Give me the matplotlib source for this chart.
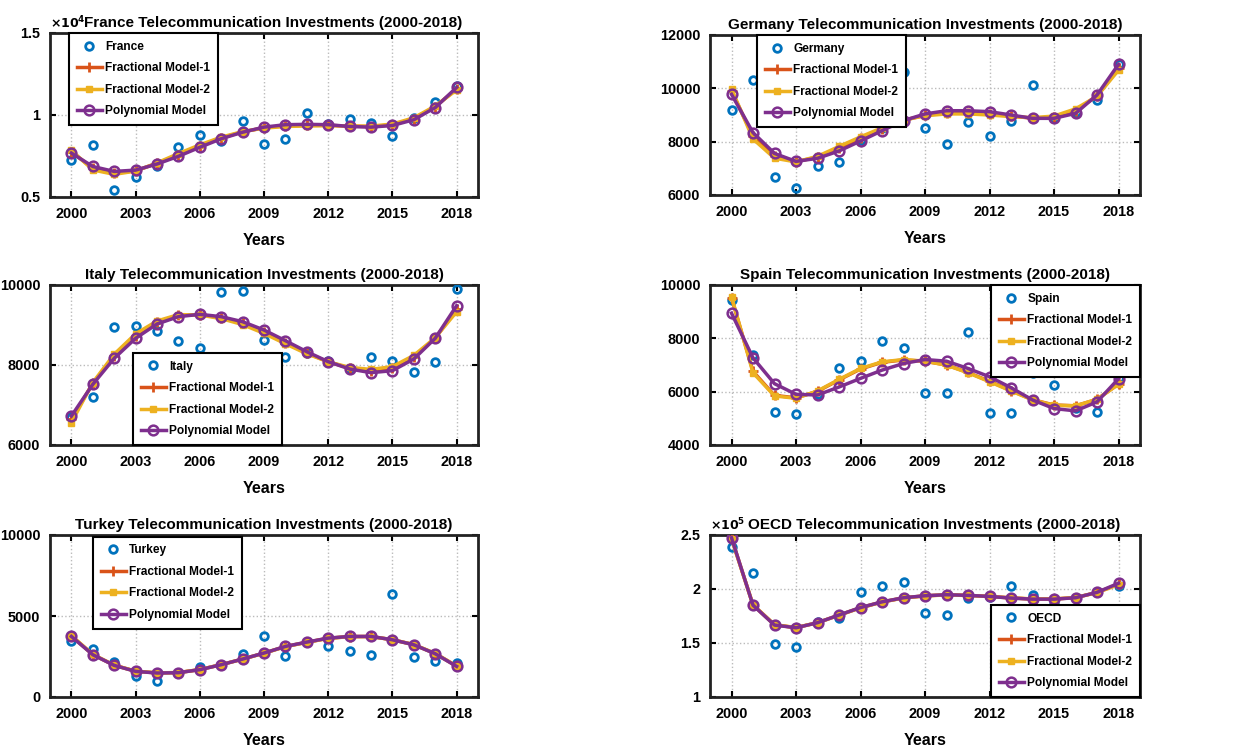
import numpy as np
import matplotlib
matplotlib.use("Agg")
import matplotlib.pyplot as plt
from matplotlib.ticker import FuncFormatter

plt.rcParams['font.family'] = ['Liberation Sans', 'DejaVu Sans']
plt.rcParams['font.weight'] = 'bold'

years = list(range(2000, 2019))
xticks = [2000, 2003, 2006, 2009, 2012, 2015, 2018]

# France
france_data = [7250, 8200, 5410, 6190, 6910, 8030, 8790, 8400, 9630, 8240, 8550, 10140, 9450, 9730, 9530, 8690, 9800, 10800, 11760]
france_fm1 = [7750, 6750, 6450, 6600, 7050, 7580, 8110, 8600, 8970, 9220, 9340, 9370, 9370, 9320, 9290, 9400, 9780, 10500, 11600]
france_fm2 = [7850, 6650, 6380, 6580, 7080, 7650, 8180, 8650, 8990, 9200, 9300, 9330, 9350, 9330, 9320, 9450, 9830, 10550, 11520]
france_poly = [7680, 6860, 6560, 6640, 7010, 7480, 8030, 8550, 8950, 9260, 9410, 9430, 9410, 9300, 9260, 9360, 9710, 10450, 11680]

# Germany
germany_data = [9190, 10310, 6690, 6250, 7100, 7250, 8050, 8500, 10625, 8500, 7900, 8750, 8225, 8775, 10125, 8900, 9100, 9560, 10900]
germany_fm1 = [9900, 8200, 7450, 7250, 7420, 7750, 8120, 8480, 8800, 8990, 9080, 9080, 9040, 8960, 8880, 8920, 9150, 9720, 10750]
germany_fm2 = [9980, 8100, 7380, 7240, 7450, 7820, 8180, 8520, 8810, 8970, 9040, 9040, 9000, 8940, 8900, 8960, 9230, 9700, 10680]
germany_poly = [9775, 8340, 7560, 7260, 7375, 7650, 8025, 8410, 8790, 9040, 9160, 9160, 9125, 9000, 8875, 8875, 9060, 9750, 10900]

# Italy
italy_data = [6700, 7208, 8942, 8975, 8850, 8608, 8433, 9833, 9850, 8625, 8208, 8300, 8100, 7900, 8192, 8100, 7833, 8067, 9892]
italy_fm1 = [6640, 7540, 8230, 8730, 9070, 9240, 9260, 9180, 9040, 8820, 8560, 8300, 8080, 7920, 7860, 7920, 8200, 8670, 9400]
italy_fm2 = [6560, 7560, 8270, 8780, 9100, 9260, 9250, 9160, 9010, 8790, 8530, 8280, 8080, 7940, 7890, 7960, 8240, 8680, 9330]
italy_poly = [6725, 7517, 8167, 8667, 9025, 9208, 9267, 9208, 9083, 8875, 8608, 8333, 8083, 7900, 7808, 7858, 8150, 8667, 9483]

# Spain
spain_data = [9441, 7392, 5255, 5156, 5900, 6895, 7143, 7889, 7640, 5939, 5963, 8236, 5193, 5193, 6709, 6237, 5400, 5255, 6500]
spain_fm1 = [9520, 6760, 5860, 5770, 6010, 6440, 6850, 7100, 7190, 7140, 7000, 6720, 6390, 6040, 5700, 5500, 5470, 5710, 6290]
spain_fm2 = [9565, 6709, 5839, 5752, 6026, 6460, 6870, 7118, 7205, 7143, 6994, 6709, 6373, 6026, 5690, 5492, 5467, 5715, 6274]
spain_poly = [8944, 7268, 6299, 5901, 5876, 6174, 6498, 6808, 7056, 7205, 7143, 6870, 6560, 6150, 5690, 5367, 5280, 5616, 6485]

# Turkey
turkey_data = [3430, 2979, 2158, 1275, 967, 1500, 1829, 2000, 2650, 3779, 2507, 3400, 3163, 2856, 2609, 6345, 2466, 2240, 2096]
turkey_fm1 = [3760, 2620, 1960, 1590, 1485, 1505, 1690, 1995, 2340, 2710, 3115, 3380, 3625, 3730, 3735, 3535, 3230, 2680, 1900]
turkey_fm2 = [3790, 2630, 1965, 1595, 1490, 1510, 1695, 1998, 2338, 2705, 3110, 3375, 3620, 3725, 3730, 3538, 3236, 2690, 1915]
turkey_poly = [3738, 2609, 1952, 1582, 1480, 1500, 1685, 1993, 2342, 2712, 3122, 3389, 3636, 3738, 3738, 3533, 3225, 2671, 1890]

# OECD
oecd_data = [239100, 215000, 149100, 146250, 169000, 173400, 196900, 202500, 206900, 178100, 175900, 191600, 193000, 203100, 194400, 185900, 192000, 197000, 202500]
oecd_fm1 = [247000, 185200, 166800, 164200, 168800, 175800, 182700, 188000, 191800, 193700, 194600, 194100, 193100, 191700, 190700, 190700, 192000, 196800, 204500]
oecd_fm2 = [246500, 185400, 167000, 164300, 168800, 175700, 182600, 187900, 191700, 193600, 194500, 194000, 193100, 191800, 190800, 190800, 192100, 196700, 204000]
oecd_poly = [247500, 185000, 166600, 164100, 168800, 175900, 182800, 188100, 191900, 193750, 194700, 194100, 193100, 191600, 190600, 190600, 191900, 196900, 205300]

C_DATA = '#0072BD'
C_FM1 = '#D95319'
C_FM2 = '#EDB120'
C_POLY = '#7E2F8E'

# axes boxes in pixels (left, top, right, bottom)
W, H = 1239, 753
boxes = {
    'France': (50, 33, 478, 197),
    'Germany': (710, 35, 1140, 195),
    'Italy': (50, 285, 478, 445),
    'Spain': (710, 285, 1140, 445),
    'Turkey': (50, 535, 478, 697),
    'OECD': (710, 535, 1140, 697),
}

panels = [
    ('France', france_data, france_fm1, france_fm2, france_poly, (5000, 15000), [5000, 10000, 15000], 1e4, 4, ('upper left', (0.044, 1.0))),
    ('Germany', germany_data, germany_fm1, germany_fm2, germany_poly, (6000, 12000), [6000, 8000, 10000, 12000], 1, None, ('upper left', (0.109, 1.0))),
    ('Italy', italy_data, italy_fm1, italy_fm2, italy_poly, (6000, 10000), [6000, 8000, 10000], 1, None, ('lower left', (0.194, 0.0))),
    ('Spain', spain_data, spain_fm1, spain_fm2, spain_poly, (4000, 10000), [4000, 6000, 8000, 10000], 1, None, ('upper right', (1.0, 1.0))),
    ('Turkey', turkey_data, turkey_fm1, turkey_fm2, turkey_poly, (0, 10000), [0, 5000, 10000], 1, None, ('upper left', (0.10, 0.99))),
    ('OECD', oecd_data, oecd_fm1, oecd_fm2, oecd_poly, (100000, 250000), [100000, 150000, 200000, 250000], 1e5, 5, ('lower right', (1.0, 0.0))),
]

fig = plt.figure(figsize=(W / 100, H / 100), dpi=100)

for name, data, fm1, fm2, poly, ylim, yticks, scale, expo, (loc, anchor) in panels:
    l, t, r, b = boxes[name]
    ax = fig.add_axes([l / W, 1 - b / H, (r - l) / W, (b - t) / H])

    ax.plot(years, data, 'o', color=C_DATA, ms=5.5, mew=2, mfc='none', label=name, zorder=3)
    ax.plot(years, fm1, '-+', color=C_FM1, lw=2.5, ms=7, mew=2, label='Fractional Model-1', zorder=4)
    ax.plot(years, fm2, '-s', color=C_FM2, lw=2.5, ms=5, label='Fractional Model-2', zorder=5)
    ax.plot(years, poly, '-o', color=C_POLY, lw=2.5, ms=7, mew=1.8, mfc='none', label='Polynomial Model', zorder=6)

    ax.set_xlim(1999, 2019)
    ax.set_ylim(*ylim)
    ax.set_xticks(xticks)
    ax.set_yticks(yticks)
    if scale != 1:
        ax.yaxis.set_major_formatter(FuncFormatter(lambda v, p, s=scale: f'{v / s:g}'))
    ax.tick_params(direction='in', length=4, width=1.5, top=True, right=True,
                   labelsize=10.4, pad=7)
    for lab in ax.get_xticklabels() + ax.get_yticklabels():
        lab.set_fontweight('bold')
    ax.grid(True, linestyle=':', color='#bbbbbb', lw=1)
    for sp in ax.spines.values():
        sp.set_linewidth(2)
        sp.set_color('#222222')

    ax.set_xlabel('Years', fontsize=11.5, fontweight='bold', labelpad=9)
    title_x = 0.5
    if expo is not None:
        title_x = 0.5 + 9 / (r - l)
        ax.text(0.0, 1.012, rf'$\times 10^{expo}$', transform=ax.transAxes,
                fontsize=9, fontweight='normal', ha='left', va='bottom')
    ax.set_title(f'{name} Telecommunication Investments (2000-2018)',
                 fontsize=11, fontweight='bold', pad=4, x=title_x)

    leg = ax.legend(loc=loc, bbox_to_anchor=anchor, borderaxespad=0,
                    fancybox=False, framealpha=1, edgecolor='black',
                    prop={'weight': 'bold', 'size': 8.6}, handlelength=2.1,
                    labelspacing=0.8, borderpad=0.65, handletextpad=0.3)
    leg.get_frame().set_linewidth(1.5)
    leg.set_zorder(10)

fig.savefig('out.png', dpi=100)
